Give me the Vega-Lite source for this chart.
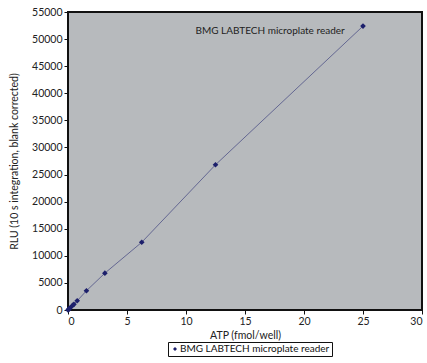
{
  "$schema": "https://vega.github.io/schema/vega-lite/v6.json",
  "width": 354,
  "height": 298,
  "autosize": {"type": "none"},
  "padding": {"left": 68, "top": 12, "right": 5, "bottom": 53},
  "background": "white",
  "config": {
    "font": "Lato",
    "view": {"fill": "#b7babd", "stroke": "#111111", "strokeWidth": 2},
    "axis": {
      "domain": false,
      "grid": false,
      "ticks": true,
      "tickColor": "#111111",
      "tickSize": 4,
      "labelFont": "Lato",
      "labelFontSize": 10.5,
      "labelColor": "#222222",
      "labelOverlap": false,
      "titleFont": "Lato",
      "titleFontSize": 10.5,
      "titleFontWeight": "normal",
      "titleColor": "#222222"
    }
  },
  "data": {
    "values": [
      {"atp": 0, "rlu": 0, "series": "BMG LABTECH microplate reader"},
      {"atp": 0.049, "rlu": 110, "series": "BMG LABTECH microplate reader"},
      {"atp": 0.098, "rlu": 220, "series": "BMG LABTECH microplate reader"},
      {"atp": 0.195, "rlu": 430, "series": "BMG LABTECH microplate reader"},
      {"atp": 0.39, "rlu": 850, "series": "BMG LABTECH microplate reader"},
      {"atp": 0.5, "rlu": 1050, "series": "BMG LABTECH microplate reader"},
      {"atp": 0.78, "rlu": 1700, "series": "BMG LABTECH microplate reader"},
      {"atp": 1.5625, "rlu": 3550, "series": "BMG LABTECH microplate reader"},
      {"atp": 3.125, "rlu": 6800, "series": "BMG LABTECH microplate reader"},
      {"atp": 6.25, "rlu": 12500, "series": "BMG LABTECH microplate reader"},
      {"atp": 12.5, "rlu": 26800, "series": "BMG LABTECH microplate reader"},
      {"atp": 25, "rlu": 52400, "series": "BMG LABTECH microplate reader"}
    ]
  },
  "encoding": {
    "x": {
      "field": "atp",
      "type": "quantitative",
      "scale": {"domain": [0, 30], "nice": false, "zero": true},
      "axis": {"values": [0, 5, 10, 15, 20, 25, 30], "title": "ATP (fmol/well)", "titlePadding": 4, "labelPadding": 2}
    },
    "y": {
      "field": "rlu",
      "type": "quantitative",
      "scale": {"domain": [0, 55000], "nice": false},
      "axis": {"values": [0, 5000, 10000, 15000, 20000, 25000, 30000, 35000, 40000, 45000, 50000, 55000], "format": "d", "title": "RLU (10 s integration, blank corrected)", "titlePadding": 12, "labelPadding": 2}
    }
  },
  "layer": [
    {
      "mark": {"type": "line", "color": "#5a5d8c", "strokeWidth": 0.9},
      "encoding": {
        "order": {"field": "atp"}
      }
    },
    {
      "mark": {"type": "point", "shape": "diamond", "filled": true, "size": 32, "opacity": 1},
      "encoding": {
        "color": {
          "field": "series",
          "type": "nominal",
          "scale": {"range": ["#1c1f6b"]},
          "legend": {
            "title": null,
            "orient": "none",
            "legendX": 100,
            "legendY": 330,
            "strokeColor": "#111111",
            "fillColor": "white",
            "padding": 2,
            "symbolType": "diamond",
            "symbolSize": 16,
            "symbolOffset": 0,
            "labelFont": "Lato",
            "labelFontSize": 10,
            "labelColor": "#111111",
            "labelOffset": 0,
            "labelLimit": 300,
            "encode": {"legend": {"update": {"strokeWidth": {"value": 1.5}}}}
          }
        }
      }
    },
    {
      "data": {"values": [{"atp": 10.8, "rlu": 51500, "label": "BMG LABTECH microplate reader"}]},
      "mark": {"type": "text", "align": "left", "baseline": "middle", "fontSize": 10, "font": "Lato", "color": "#222222"},
      "encoding": {
        "text": {"field": "label"}
      }
    }
  ]
}
